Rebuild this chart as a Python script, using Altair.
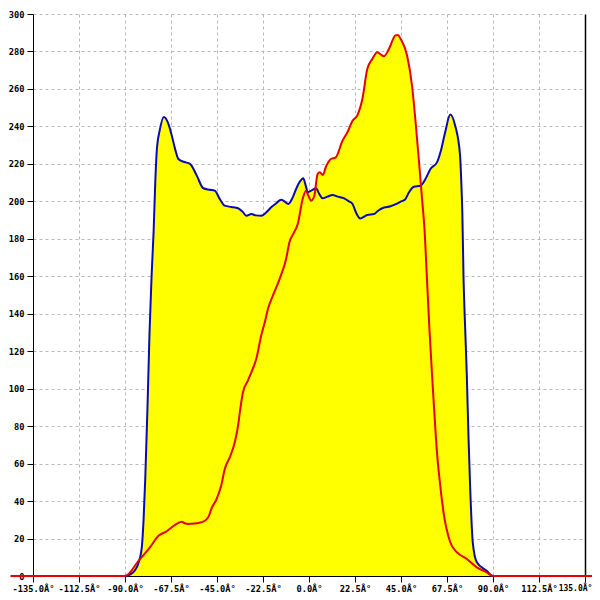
import altair as alt
import pandas as pd

# Blue series (angle in degrees, value)
blue_x = [-135, -90, -86, -83.3, -81.7, -80.9, -80.1, -79, -78, -77, -76, -75.2, -74.4, -73, -71,
          -69, -67.1, -65.5, -63.9, -61, -58.2, -55, -51.7, -48.5, -46.1, -43.5, -41.2, -38, -34.7,
          -32.5, -30.6, -28.2, -26, -23.4, -21, -18.5, -16, -13.6, -12, -10.1, -8, -6.3, -4.5, -2.8,
          -1.5, -0.6, 1.5, 3.4, 5, 6.7, 9, 11.5, 14, 17.2, 19.5, 21.3, 23, 25, 28.5, 31.8, 33.8, 35.8,
          39.9, 42.5, 44.8, 47, 49, 51.3, 54.5, 57, 59.4, 62.6, 64.5, 66.6, 69.1, 71.5, 73.9, 74.5,
          75, 75.6, 76.4, 77.2, 78, 78.8, 80.1, 82.1, 86.9, 90, 135]
blue_y = [0, 0, 2, 7.3, 16.2, 30.4, 51.8, 90, 130, 160, 184, 210, 228, 238, 245,
          242, 235, 228, 222.6, 221, 220, 214, 207, 206.2, 205.7, 201, 197.7, 197, 196.3,
          194.5, 192.3, 193.2, 192.5, 192.3, 194, 196.8, 199, 200.9, 200, 198.6, 202, 206.6, 210.5, 212.3,
          208, 204.8, 206, 207, 204, 201.6, 202.5, 203.4, 202.5, 201.6, 200, 198.6, 194, 190.9, 192.7, 193.2, 195, 196.3,
          197.4, 198.5, 199.8, 201, 205, 207.8, 208.3, 212, 217.3, 220.8, 227, 236.9, 246.3, 240.4, 224.4, 210,
          194, 158.5, 131.9, 106.9, 74.9, 48.2, 18, 7.3, 2.8, 0, 0]

# Red series (angle in degrees, value)
red_x = [-146, -90, -83.3, -78, -73.6, -69.6, -67.1, -64.5, -62.3, -60.5, -59, -56, -54.1, -50.9,
         -49, -47.7, -45.2, -43, -41.2, -38.5, -36.3, -34.7, -33.5, -32.3, -30, -28.2, -25.8, -23.4,
         -21.5, -20.1, -17.7, -14.4, -11.2, -9.6, -7.5, -5.5, -3.1, -1.5, -0.3, 1, 2.6, 4.2, 5.3, 6.7,
         8.5, 10.7, 13.1, 16.4, 18.8, 21.3, 23.7, 26.1, 28.5, 31, 33.4, 35, 36.6, 39.1, 42.3, 43.5,
         44.8, 48, 50.4, 52, 53.7, 55.3, 56.5, 57.7, 58.9, 60.2, 61, 62.6, 64.2, 65.8, 69.1, 72.3,
         77.2, 82.1, 86.9, 90, 146]
red_y = [0, 0, 8.2, 15, 21.5, 23.9, 26, 28, 29, 28, 27.8, 28, 28.3, 29.5,
         32, 36, 41.1, 48, 57.1, 64, 71.4, 80.2, 90, 98.1, 104, 108.7, 115.8, 128.3,
         136, 142.5, 149.6, 158.5, 169.2, 178, 183, 187.9, 201.2, 205.7, 203, 200.3, 203, 214.6, 215.5, 214.1,
         219, 222.6, 223.5, 232.4, 236.9, 243, 246, 254.6, 270.6, 276, 279.6, 278.5, 277.4, 281.3, 288.6, 288.8,
         286.7, 277.7, 261.7, 244, 222.6, 201.2, 185, 158.5, 132, 107, 92.7, 66, 48.2, 34, 18, 12.7,
         9.1, 4.6, 2, 0, 0]

x_ticks = [-135, -112.5, -90, -67.5, -45, -22.5, 0, 22.5, 45, 67.5, 90, 112.5, 135]
y_ticks = [0, 20, 40, 60, 80, 100, 120, 140, 160, 180, 200, 220, 240, 260, 280, 300]

blue = pd.DataFrame({"angle": blue_x, "value": blue_y})
red = pd.DataFrame({"angle": red_x, "value": red_y})

xscale = alt.Scale(domain=[-135, 135], nice=False, zero=False)
yscale = alt.Scale(domain=[0, 300], nice=False)

font = "DejaVu Sans Mono"
fsize = 8.7
x_label_expr = "(datum.value < 0 ? '-' : '') + format(abs(datum.value), '.1f') + 'Â°'"
last_test = "datum.value >= 135"

x_axis = alt.Axis(values=x_ticks, labelExpr=x_label_expr, title=None, grid=True,
                  gridDash=[3, 3], gridColor="#b8b8b8", gridWidth=1,
                  domainColor="black", domainWidth=1, tickColor="black", tickSize=6,
                  labelFont=font, labelFontWeight="bold", labelColor="black",
                  labelFontSize={"condition": {"test": last_test, "value": 8}, "value": fsize},
                  labelOffset={"condition": {"test": last_test, "value": -10}, "value": 0},
                  labelPadding=2, labelFlush=False, labelOverlap=False, labelBaseline="top",
                  labelAlign="center")
y_axis = alt.Axis(values=y_ticks, format="d", title=None, grid=True,
                  gridDash=[3, 3], gridColor="#b8b8b8", gridWidth=1,
                  domainColor="black", domainWidth=1, tickColor="black", tickSize=6,
                  labelFont=font, labelFontWeight="bold", labelFontSize=fsize, labelColor="black",
                  labelPadding=3, labelFlush=False, labelOverlap=False)
y_axis_right = alt.Axis(orient="right", title=None, grid=False, labels=False, ticks=False,
                        domainColor="black", domainWidth=1.5)

X = alt.X("angle:Q", scale=xscale, axis=x_axis)

blue_area = alt.Chart(blue).mark_area(color="#ffff00", interpolate="monotone").encode(
    x=X,
    y=alt.Y("value:Q", scale=yscale, axis=y_axis),
)
red_area = alt.Chart(red).mark_area(color="#ffff00", interpolate="monotone").encode(
    x=X,
    y=alt.Y("value:Q", scale=yscale, axis=None),
)
blue_line = alt.Chart(blue).mark_line(color="#0a0ab4", strokeWidth=2, interpolate="monotone").encode(
    x=X,
    y=alt.Y("value:Q", scale=yscale, axis=y_axis_right),
)
red_line = alt.Chart(red).mark_line(color="#e60000", strokeWidth=2, interpolate="monotone",
                                    clip=False).encode(
    x=X,
    y=alt.Y("value:Q", scale=yscale, axis=None),
)

chart = alt.layer(blue_area, red_area, blue_line, red_line).resolve_axis(
    y="independent"
).properties(
    width=552, height=562,
    padding={"left": 25, "top": 6, "right": 7, "bottom": 16},
    autosize=alt.AutoSizeParams(type="none"),
    background="white",
).configure_view(stroke=None)

chart.save("out.html", embed_options={"renderer": "svg", "actions": False})
